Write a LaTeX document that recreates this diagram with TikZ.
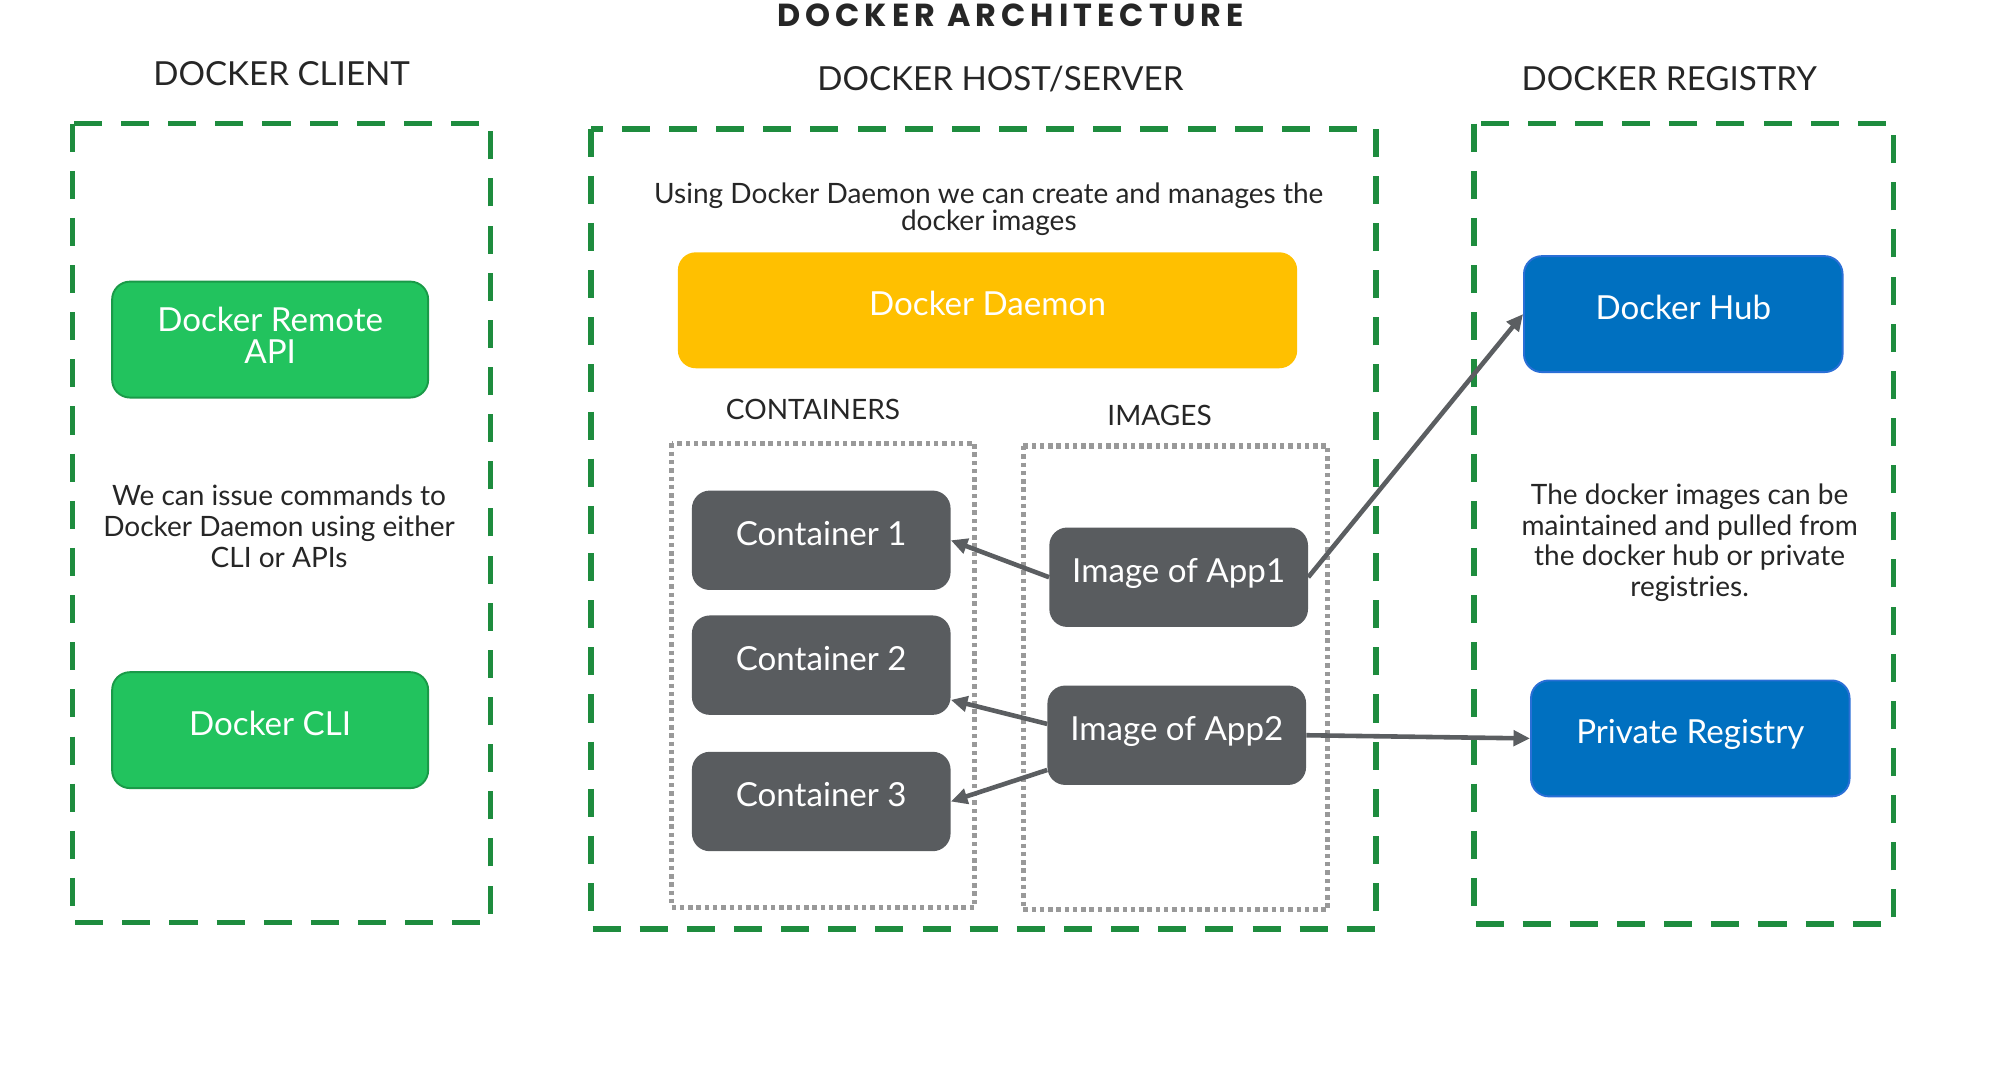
\documentclass[tikz,border=0pt]{standalone}
\usepackage{fontspec}
\setmainfont{Lato}
\newfontfamily\titlefont[LetterSpace=16]{Poppins}
\usetikzlibrary{arrows.meta}

\definecolor{zonegreen}{HTML}{1E8C3E}
\definecolor{boxgreen}{HTML}{22C35E}
\definecolor{edgegreen}{HTML}{1A9A48}
\definecolor{daemonyellow}{HTML}{FFC000}
\definecolor{darkbox}{HTML}{595C5F}
\definecolor{hubblue}{HTML}{0070C0}
\definecolor{edgeblue}{HTML}{2A6FD6}
\definecolor{linkgray}{HTML}{5B5E61}
\definecolor{dotgray}{HTML}{999999}
\definecolor{txt}{HTML}{262626}

\begin{document}
\begin{tikzpicture}[
    x=1pt, y=-1pt,
    zone/.style = {draw=zonegreen, line width=4.5pt, dash pattern=on 22pt off 15pt},
    group/.style = {draw=dotgray, line width=4pt, dash pattern=on 3.5pt off 3pt},
    head/.style = {text=txt, font=\fontsize{26}{26}\selectfont},
    note/.style = {text=txt, align=center, font=\fontsize{22}{24}\selectfont},
    box/.style = {rounded corners=14pt, inner sep=0pt, align=center, text=white, text height=18.7pt, text depth=11pt, font=\fontsize{26}{25}\selectfont},
    greenbox/.style = {box, fill=boxgreen, draw=edgegreen, line width=1.5pt, minimum width=248pt, minimum height=91pt},
    graybox/.style = {box, fill=darkbox, minimum width=203pt, minimum height=78pt},
    bluebox/.style = {box, fill=hubblue, draw=edgeblue, line width=1.5pt, minimum width=250pt, minimum height=91pt},
    link/.style = {draw=linkgray, line width=3.6pt, -{Triangle[length=13pt, width=12pt]}}
]
\useasboundingbox (0,0) rectangle (1568,847);

% title and columns
\node (title) at (793,12) [text=txt, font=\titlefont\bfseries\fontsize{25}{25}\selectfont] {DOCKER ARCHITECTURE};
\node (hclient) at (221,58) [head] {DOCKER CLIENT};
\node (hhost) at (785,62) [head] {DOCKER HOST/SERVER};
\node (hreg) at (1310,62) [head] {DOCKER REGISTRY};

\draw[zone] (57,97) rectangle (385,724);
\draw[zone] (464,101) rectangle (1080,729);
\draw[zone] (1157,97) rectangle (1486,725);

% client
\node (api) at (212,266.5) [greenbox, text height=48.7pt] {Docker Remote\\API};
\node (clinote) at (219,413) [note] {We can issue commands to\\Docker Daemon using either\\CLI or APIs};
\node (cli) at (212,573) [greenbox] {Docker CLI};

% host
\node (hostnote) at (776,164) [note, font=\fontsize{22}{21}\selectfont] {Using Docker Daemon we can create and manages the\\docker images};
\node (daemon) at (775,243.5) [box, fill=daemonyellow, minimum width=486pt, minimum height=91pt] {Docker Daemon};
\node (lcont) at (638,321) [note] {CONTAINERS};
\node (limg) at (910,326) [note] {IMAGES};
\draw[group] (527,348) rectangle (765,712);
\draw[group] (803,350) rectangle (1042,714);

\node (c1) at (644.5,424) [graybox] {Container 1};
\node (c2) at (644.5,522) [graybox] {Container 2};
\node (c3) at (644.5,629) [graybox] {Container 3};
\node (app1) at (925,453) [graybox] {Image of App1};
\node (app2) at (923.5,577) [graybox] {Image of App2};

% registry
\node (hub) at (1321,246.5) [bluebox] {Docker Hub};
\node (regnote) at (1326,426) [note] {The docker images can be\\maintained and pulled from\\the docker hub or private\\registries.};
\node (priv) at (1326.5,579.5) [bluebox] {Private Registry};

\draw[link] (app1.west) -- (c1.east);
\draw[link] (app2.175) -- (c2.-15);
\draw[link] (app2.-165) -- (c3.east);
\draw[link] (app1.east) -- (hub.west);
\draw[link] (app2.east) -- (priv.west);
\end{tikzpicture}
\end{document}
